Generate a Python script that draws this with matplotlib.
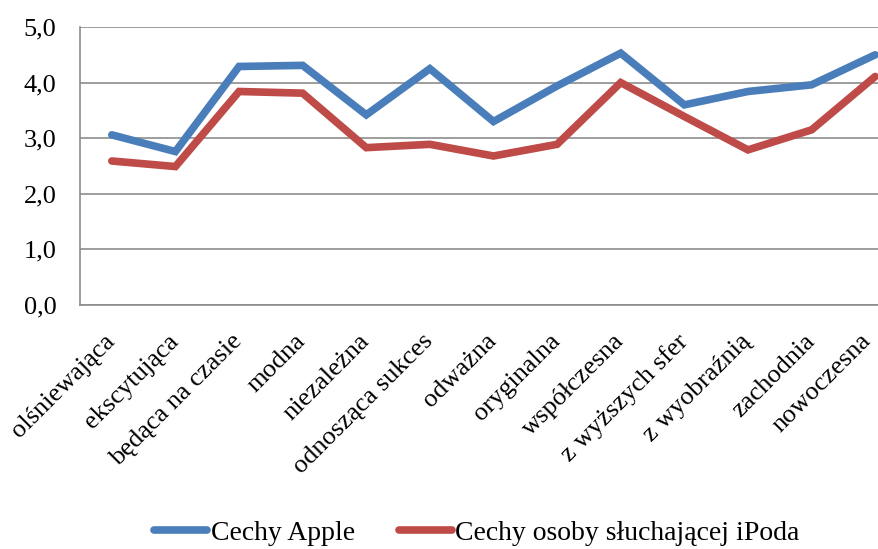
import matplotlib
matplotlib.use("Agg")
import matplotlib.pyplot as plt
import matplotlib.transforms as mtransforms

categories = ["olśniewająca", "ekscytująca", "będąca na czasie", "modna", "niezależna",
              "odnosząca sukces", "odważna", "oryginalna", "współczesna", "z wyższych sfer",
              "z wyobraźnią", "zachodnia", "nowoczesna"]
apple = [3.06, 2.76, 4.29, 4.31, 3.42, 4.25, 3.30, 3.94, 4.53, 3.60, 3.84, 3.96, 4.50]
ipod = [2.59, 2.49, 3.84, 3.81, 2.83, 2.89, 2.68, 2.89, 4.00, 3.39, 2.79, 3.15, 4.11]
yticks = [0, 1, 2, 3, 4, 5]
ytick_labels = ["0,0", "1,0", "2,0", "3,0", "4,0", "5,0"]

plt.rcParams['font.family'] = ['Liberation Serif', 'DejaVu Serif']

W, H = 879, 549
fig = plt.figure(figsize=(W/100, H/100), dpi=100)
left, right = 80/W, 907/W
bottom, top = 1 - 305/H, 1 - 27/H
ax = fig.add_axes([left, bottom, right-left, top-bottom])

x = list(range(len(categories)))
ax.plot(x, apple, color="#4a7ebb", lw=5.5, solid_capstyle="round", solid_joinstyle="miter", label="Cechy Apple", zorder=3)
ax.plot(x, ipod, color="#be4b48", lw=5.5, solid_capstyle="round", solid_joinstyle="miter", label="Cechy osoby słuchającej iPoda", zorder=3)

FS = 19
ax.set_xlim(-0.5, len(categories)-0.5)
ax.set_ylim(0, 5)
ax.set_yticks(yticks)
ax.set_yticklabels(ytick_labels, fontsize=FS)
ax.set_xticks(x)
ax.set_xticklabels(categories, rotation=45, ha="right", rotation_mode="anchor", fontsize=FS)
ax.tick_params(axis="both", length=0)
ax.tick_params(axis="y", pad=17)
ax.tick_params(axis="x", pad=18)
labels = ax.get_xticklabels()
for i, lab in enumerate(labels):
    dx = -15 if i == len(labels) - 1 else -8
    lab.set_transform(lab.get_transform() + mtransforms.ScaledTranslation(dx/100, 0, fig.dpi_scale_trans))
ax.grid(axis="y", color="#8c8c8c", lw=1.2)
ax.set_axisbelow(True)
for s in ["top", "right"]:
    ax.spines[s].set_visible(False)
for s in ["left", "bottom"]:
    ax.spines[s].set_color("#8c8c8c")
    ax.spines[s].set_linewidth(1.2)

leg = fig.legend(loc="center", bbox_to_anchor=(477/W, 1 - 533/H), ncol=2, frameon=False,
                 fontsize=20, handlelength=1.9, columnspacing=1.6, handletextpad=0.12,
                 borderpad=0.1)

fig.savefig("out.png", dpi=100)
